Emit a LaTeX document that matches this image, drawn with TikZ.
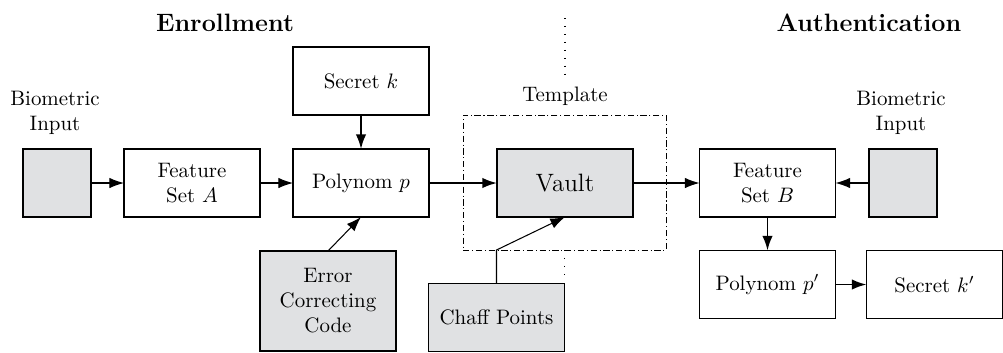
\documentclass[tikz,border=0pt]{standalone}
\usepackage{amsmath}
\usepackage{tikz}
\usetikzlibrary{arrows.meta}
\definecolor{boxgray}{RGB}{224,225,227}

\begin{document}
\begin{tikzpicture}[x=0.0168cm,y=0.0168cm,  % jednostka = 1 piksel
    >={Latex[length=7pt,width=5pt]},
    blok/.style={draw,line width=0.5pt,minimum width=2.285cm,
      minimum height=1.142cm,align=center,inner sep=1pt,outer sep=0pt},
    szary/.style={blok,fill=boxgray},
    wejscie/.style={szary,minimum width=1.142cm},
    strzalka/.style={->,line width=0.5pt},
    gruba/.style={->,line width=0.9pt},
    tytul/.style={font=\large\bfseries}]
    \useasboundingbox (0,0) rectangle (1003,352);

    % Tytuly
    \node[tytul] (enroll) at (225,329) {Enrollment};
    \node[tytul] (auth) at (869,329) {Authentication};

    % Rejestracja
    \node[align=center] (bioAtxt) at (55,239) {Biometric\\Input};
    \node[wejscie] (bioA) at (57,169) {};
    \node[blok] (featA) at (192,169) {Feature\\Set $A$};
    \node[blok] (polyP) at (361,169) {Polynom $p$};
    \node[blok] (secK) at (361,271) {Secret $k$};
    \node[szary,minimum height=1.68cm] (ecc) at (328,51)
      {Error\\Correcting\\Code};
    \node[szary] (chaff) at (496.5,34.5) {Chaff Points};

    % Szablon
    \node[draw,line width=0.4pt,
      dash pattern=on 3pt off 1.3pt on 0.5pt off 1.3pt,
      minimum width=3.41cm,minimum height=2.268cm,outer sep=0pt]
      (tmpl) at (564.5,169.5) {};
    \node (tmpltxt) at (565,256) {Template};
    \node[szary,font=\large] (vault) at (565,169) {Vault};

    % Linia podzialu
    \draw[line width=0.5pt,dash pattern=on 0.5pt off 3.3pt]
      (565,334) -- (565,272);
    \draw[line width=0.5pt,dash pattern=on 0.5pt off 3.3pt]
      (tmpl.south) -- ++(0,-27);

    % Uwierzytelnianie
    \node[align=center] (bioBtxt) at (901,239) {Biometric\\Input};
    \node[wejscie] (bioB) at (903,169) {};
    \node[blok] (featB) at (767.5,169) {Feature\\Set $B$};
    \node[blok] (polyP2) at (767.5,67.5) {Polynom $p'$};
    \node[blok] (secK2) at (934.5,67.5) {Secret $k'$};

    % Strzalki
    \draw[strzalka] (bioA) -- (featA);
    \draw[strzalka] (featA) -- (polyP);
    \draw[gruba] (secK) -- (polyP);
    \draw[strzalka] (ecc.north) -- (polyP.south);
    \draw[gruba] (polyP) -- (vault);
    \draw[strzalka] (chaff.north) -- (chaff.north |- tmpl.south)
      -- (vault.south);
    \draw[strzalka] (vault) -- (featB);
    \draw[strzalka] (bioB) -- (featB);
    \draw[gruba] (featB) -- (polyP2);
    \draw[gruba] (polyP2) -- (secK2);

\end{tikzpicture}
\end{document}
